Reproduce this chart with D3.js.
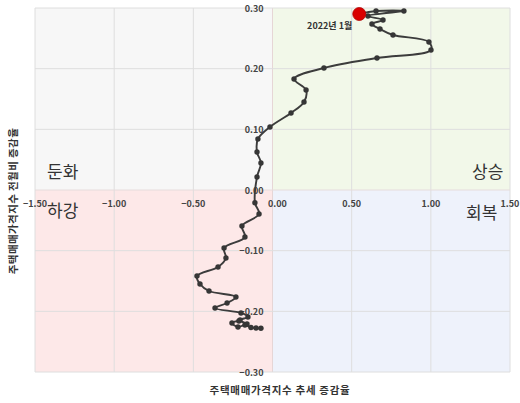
<!DOCTYPE html>
<html><head><meta charset="utf-8">
<script src="https://cdn.jsdelivr.net/npm/d3@7"></script>
<style>
html,body{margin:0;padding:0;background:#fff;}
svg{display:block;font-family:"Noto Sans CJK KR","Noto Sans",sans-serif;}
</style></head><body>
<svg id="c" width="520" height="403"></svg>
<script>
// chronological path (older → 2022년 1월)
const trendX = [-0.073,-0.104,-0.136,-0.174,-0.218,-0.256,-0.212,-0.161,-0.205,-0.155,-0.199,-0.363,-0.287,-0.231,-0.401,-0.458,-0.477,-0.344,-0.294,-0.306,-0.174,-0.193,-0.085,-0.111,-0.098,-0.073,-0.098,-0.092,-0.016,0.117,0.199,0.212,0.136,0.325,0.660,1.001,0.988,0.761,0.679,0.628,0.698,0.603,0.830,0.654,0.548];
const momY   = [-0.228,-0.2275,-0.2266,-0.2225,-0.2258,-0.2192,-0.216,-0.2209,-0.2143,-0.2093,-0.2027,-0.1945,-0.1863,-0.1764,-0.1665,-0.155,-0.1418,-0.1269,-0.1121,-0.0956,-0.0775,-0.0593,-0.0396,-0.0209,0.0214,0.0445,0.0626,0.0841,0.1039,0.1269,0.1451,0.1648,0.183,0.2011,0.2176,0.2308,0.2440,0.2555,0.2654,0.2736,0.2802,0.2868,0.2950,0.2950,0.2901];
const xTicks = [-1.5,-1.0,-0.5,0,0.5,1.0,1.5];
const yTicks = [-0.3,-0.2,-0.1,0,0.1,0.2,0.3];
const quadrantLabels = ["둔화","상승","하강","회복"];
const highlightLabel = "2022년 1월";
const xTitle = "주택매매가격지수 추세 증감율";
const yTitle = "주택매매가격지수 전월비 증감율";

const svg = d3.select("#c");
const L=35,R=510,T=8,B=372;
const x = d3.scaleLinear().domain([-1.5,1.5]).range([L,R]);
const y = d3.scaleLinear().domain([-0.3,0.3]).range([B,T]);

// quadrants
const quads = [
  {x0:-1.5,x1:0,y0:0,y1:0.3,c:"#f7f7f7"},
  {x0:0,x1:1.5,y0:0,y1:0.3,c:"#f2f8e9"},
  {x0:-1.5,x1:0,y0:-0.3,y1:0,c:"#fde8e8"},
  {x0:0,x1:1.5,y0:-0.3,y1:0,c:"#eef2fb"}
];
svg.selectAll("rect.q").data(quads).enter().append("rect")
  .attr("x",d=>x(d.x0)).attr("y",d=>y(d.y1))
  .attr("width",d=>x(d.x1)-x(d.x0)).attr("height",d=>y(d.y0)-y(d.y1))
  .attr("fill",d=>d.c);

// grid
const g = svg.append("g");
g.selectAll("line.vx").data(xTicks).enter().append("line")
  .attr("x1",d=>x(d)).attr("x2",d=>x(d)).attr("y1",T).attr("y2",B)
  .attr("stroke",d=>d===0?"#e6d6d6":"#dedede").attr("stroke-width",1);
g.selectAll("line.hy").data(yTicks).enter().append("line")
  .attr("y1",d=>y(d)).attr("y2",d=>y(d)).attr("x1",L).attr("x2",R)
  .attr("stroke",d=>d===0?"#e6dcdc":"#dedede").attr("stroke-width",1);

// tick labels
const fmt = d3.format(".2f");
svg.selectAll("text.xt").data(xTicks).enter().append("text")
  .attr("x",d=>x(d)+ (d===0?5:0)).attr("y",y(0)+17)
  .attr("text-anchor","middle").attr("font-size",9).attr("font-weight","bold")
  .attr("fill","#444").text(d=>fmt(d));
svg.selectAll("text.yt").data(yTicks).enter().append("text")
  .attr("x",x(0)-9).attr("y",d=>y(d)+3.5)
  .attr("text-anchor","end").attr("font-size",9).attr("font-weight","bold")
  .attr("fill","#444").text(d=>fmt(d));

// quadrant labels
const qpos = [[47,178],[472,178],[47,217],[466,219]];
svg.selectAll("text.ql").data(quadrantLabels).enter().append("text")
  .attr("x",(d,i)=>qpos[i][0]).attr("y",(d,i)=>qpos[i][1])
  .attr("font-size",17).attr("fill","#333").text(d=>d);

// data
const pts = trendX.map((v,i)=>[v,momY[i]]);
const line = d3.line().x(d=>x(d[0])).y(d=>y(d[1])).curve(d3.curveCatmullRom.alpha(0.5));
svg.append("path").datum(pts).attr("d",line).attr("fill","none")
  .attr("stroke","#3c3c3c").attr("stroke-width",1.9);
svg.selectAll("circle.p").data(pts.slice(0,-1)).enter().append("circle")
  .attr("cx",d=>x(d[0])).attr("cy",d=>y(d[1])).attr("r",2.7).attr("fill","#363636");
const last = pts[pts.length-1];
svg.append("circle").attr("cx",x(last[0])).attr("cy",y(last[1])).attr("r",6.5)
  .attr("fill","#d90000").attr("stroke","#b00000").attr("stroke-width",0.8);
svg.append("text").attr("x",x(last[0])-7).attr("y",y(last[1])+15)
  .attr("text-anchor","end").attr("font-size",9).attr("font-weight","bold")
  .attr("fill","#333").text(highlightLabel);

// axis titles
svg.append("text").attr("x",280).attr("y",394).attr("text-anchor","middle")
  .attr("font-size",10.5).attr("letter-spacing",0.7).attr("font-weight","bold").attr("fill","#333").text(xTitle);
svg.append("text").attr("transform","translate(17,201) rotate(-90)")
  .attr("text-anchor","middle").attr("font-size",10.5).attr("letter-spacing",0.4).attr("font-weight","bold")
  .attr("fill","#333").text(yTitle);
</script></body></html>
